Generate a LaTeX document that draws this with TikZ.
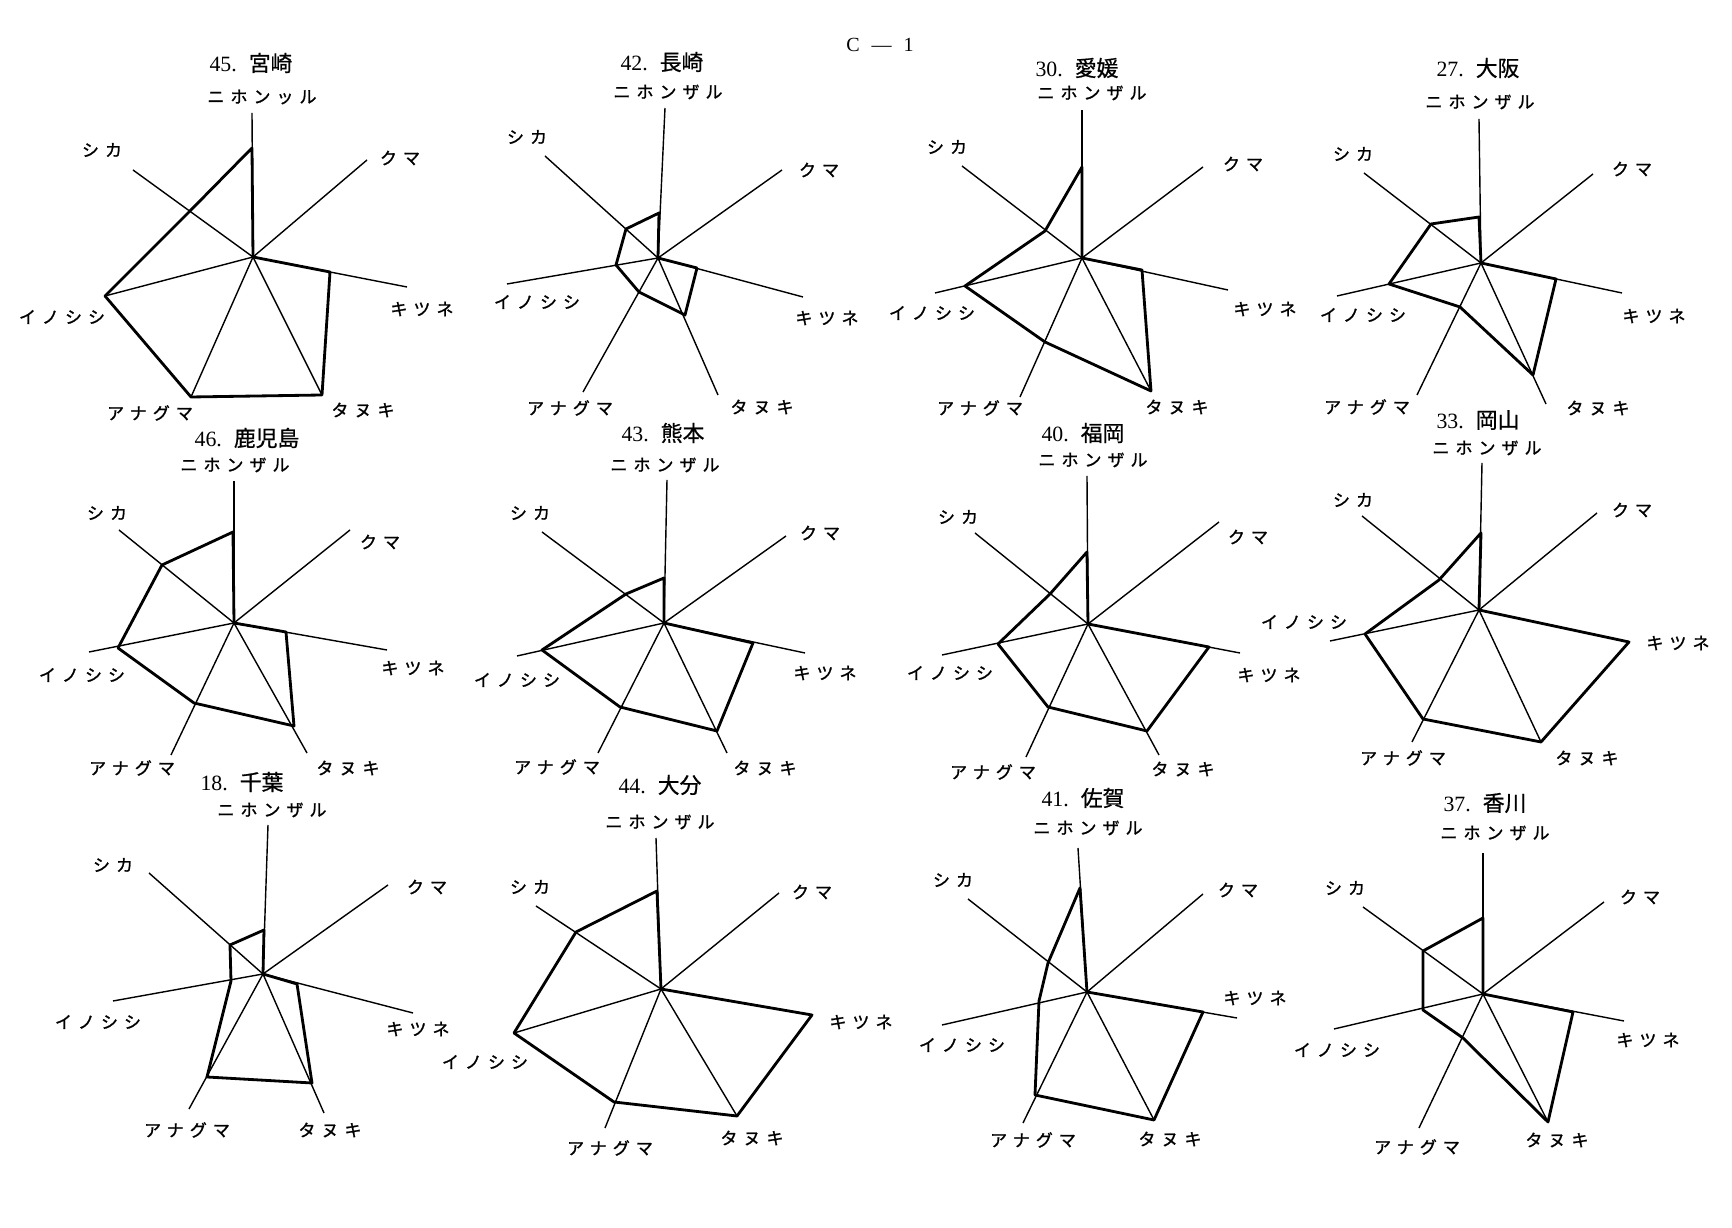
\documentclass[tikz,border=0pt]{standalone}
\usepackage{fontspec}
\setmainfont{Liberation Serif}
\newfontfamily\cjk[LetterSpace=35, FakeBold=1.2]{Noto Sans CJK JP}
\newfontfamily\cjkt[FakeBold=0.8]{Noto Sans CJK JP}
\newcommand{\drawthin}{\draw[line width=0.4pt]}
\newcommand{\drawthick}{\draw[line width=0.8pt, line join=round]}
\newcommand{\spokes}[3]{
    \foreach \sx/\sy in {#3}{
    \drawthin (#1,#2)--(\sx,\sy);
    }
}
\newcommand{\animal}[4]{\node[lbl] (#1) at (#2,#3) {#4};}
\newcommand{\prefname}[5]{\node[ttl] (#1) at (#2,#3) {#4.\hspace{0.55em}{\cjkt #5}};}
\tikzset{
    lbl/.style={font=\cjk\fontsize{4.85}{5}\selectfont, inner sep=0pt},
    ttl/.style={font=\fontsize{6.2}{7}\selectfont, inner sep=0pt}
}
\begin{document}
\begin{tikzpicture}[x=0.01cm, y=-0.01cm]
\useasboundingbox (0,0) rectangle (1732,1228);
\node[font=\fontsize{5.7}{6}\selectfont, inner sep=0pt] (page) at (880,45) {C\hspace{0.6em}—\hspace{0.6em}1};
% 45 宮崎
\prefname{t45}{251}{63}{45}{宮崎}
\spokes{253}{257}{252/113,367/160,407/287,322/395,191/397,105/296,133/170}
\drawthick (252,148)--(253,257)--(330,272)--(322,395)--(191,397)--(105,296)--(190,211)--cycle;
\animal{n45}{262}{97}{ニホンッル}\animal{k45}{400}{158}{クマ}\animal{f45}{422}{309}{キツネ}\animal{r45}{363}{410}{タヌキ}\animal{b45}{150}{413}{アナグマ}\animal{w45}{62}{317}{イノシシ}\animal{d45}{102}{150}{シカ}
% 42 長崎
\prefname{t42}{662}{62}{42}{長崎}
\spokes{658}{258}{665/108,782/170,803/297,718/395,583/392,507/284,545/156}
\drawthick (659,213)--(658,258)--(697,268)--(685,315)--(639,292)--(616,265)--(626,229)--cycle;
\animal{n42}{668}{92}{ニホンザル}\animal{k42}{819}{170}{クマ}\animal{f42}{827}{318}{キツネ}\animal{r42}{762}{407}{タヌキ}\animal{b42}{570}{408}{アナグマ}\animal{w42}{537}{302}{イノシシ}\animal{d42}{527}{137}{シカ}
% 30 愛媛
\prefname{t30}{1077}{68}{30}{愛媛}
\spokes{1082}{258}{1082/110,1203/167,1228/290,1151/391,1020/397,935/293,962/166}
\drawthick (1082,167)--(1082,258)--(1142,270)--(1151,391)--(1045,342)--(965,286)--(1045,231)--cycle;
\animal{n30}{1092}{93}{ニホンザル}\animal{k30}{1243}{164}{クマ}\animal{f30}{1265}{309}{キツネ}\animal{r30}{1177}{407}{タヌキ}\animal{b30}{980}{408}{アナグマ}\animal{w30}{932}{313}{イノシシ}\animal{d30}{947}{147}{シカ}
% 27 大阪
\prefname{t27}{1478}{68}{27}{大阪}
\spokes{1481}{263}{1479/119,1593/174,1622/293,1546/404,1417/395,1337/296,1364/173}
\drawthick (1479,217)--(1481,263)--(1556,279)--(1533,375)--(1460,307)--(1389,284)--(1431,224)--cycle;
\animal{n27}{1480}{102}{ニホンザル}\animal{k27}{1632}{169}{クマ}\animal{f27}{1654}{316}{キツネ}\animal{r27}{1598}{408}{タヌキ}\animal{b27}{1367}{407}{アナグマ}\animal{w27}{1363}{315}{イノシシ}\animal{d27}{1353}{154}{シカ}
% 46 鹿児島
\prefname{t46}{247}{438}{46}{鹿児島}
\spokes{234}{623}{234/481,350/530,387/650,307/753,171/755,89/652,119/530}
\drawthick (233,532)--(234,623)--(286,632)--(294,726)--(194,703)--(118,648)--(162,565)--cycle;
\animal{n46}{235}{465}{ニホンザル}\animal{k46}{380}{542}{クマ}\animal{f46}{413}{668}{キツネ}\animal{r46}{348}{768}{タヌキ}\animal{b46}{132}{768}{アナグマ}\animal{w46}{82}{675}{イノシシ}\animal{d46}{107}{513}{シカ}
% 43 熊本
\prefname{t43}{663}{433}{43}{熊本}
\spokes{664}{623}{667/480,786/536,805/653,727/753,598/753,517/656,542/532}
\drawthick (664,578)--(664,623)--(753,643)--(717,731)--(620,707)--(542,650)--(626,594)--cycle;
\animal{n43}{665}{465}{ニホンザル}\animal{k43}{820}{533}{クマ}\animal{f43}{825}{673}{キツネ}\animal{r43}{765}{768}{タヌキ}\animal{b43}{557}{767}{アナグマ}\animal{w43}{517}{680}{イノシシ}\animal{d43}{530}{513}{シカ}
% 40 福岡
\prefname{t40}{1083}{433}{40}{福岡}
\spokes{1088}{624}{1087/476,1219/522,1240/653,1159/755,1026/757,942/655,975/533}
\drawthick (1087,552)--(1088,624)--(1209,647)--(1147,731)--(1048,707)--(998,644)--(1050,594)--cycle;
\animal{n40}{1093}{460}{ニホンザル}\animal{k40}{1248}{537}{クマ}\animal{f40}{1269}{675}{キツネ}\animal{r40}{1183}{769}{タヌキ}\animal{b40}{993}{772}{アナグマ}\animal{w40}{950}{673}{イノシシ}\animal{d40}{958}{517}{シカ}
% 33 岡山
\prefname{t33}{1478}{420}{33}{岡山}
\spokes{1479}{610}{1482/463,1597/513,1629/642,1541/742,1412/742,1330/641,1362/516}
\drawthick (1481,533)--(1479,610)--(1629,642)--(1541,742)--(1423,719)--(1365,634)--(1439,580)--cycle;
\animal{n33}{1487}{448}{ニホンザル}\animal{k33}{1632}{510}{クマ}\animal{f33}{1678}{643}{キツネ}\animal{r33}{1587}{758}{タヌキ}\animal{b33}{1403}{758}{アナグマ}\animal{w33}{1304}{622}{イノシシ}\animal{d33}{1353}{500}{シカ}
% 18 千葉
\prefname{t18}{242}{782}{18}{千葉}
\spokes{263}{974}{268/825,388/885,413/1013,324/1113,189/1109,113/1001,149/873}
\drawthick (264,930)--(263,974)--(297,984)--(312,1083)--(207,1077)--(231,981)--(230,945)--cycle;
\animal{n18}{272}{810}{ニホンザル}\animal{k18}{427}{887}{クマ}\animal{f18}{418}{1029}{キツネ}\animal{r18}{330}{1130}{タヌキ}\animal{b18}{187}{1130}{アナグマ}\animal{w18}{98}{1022}{イノシシ}\animal{d18}{113}{865}{シカ}
% 44 大分
\prefname{t44}{660}{785}{44}{大分}
\spokes{661}{989}{656/838,779/893,812/1015,737/1116,605/1128,514/1033,536/906}
\drawthick (657,891)--(661,989)--(812,1015)--(737,1116)--(614,1102)--(514,1033)--(576,932)--cycle;
\animal{n44}{660}{822}{ニホンザル}\animal{k44}{812}{892}{クマ}\animal{f44}{861}{1022}{キツネ}\animal{r44}{752}{1138}{タヌキ}\animal{b44}{610}{1148}{アナグマ}\animal{w44}{485}{1062}{イノシシ}\animal{d44}{530}{887}{シカ}
% 41 佐賀
\prefname{t41}{1083}{798}{41}{佐賀}
\spokes{1087}{992}{1078/848,1203/894,1237/1018,1154/1120,1023/1123,942/1025,968/899}
\drawthick (1080,888)--(1087,992)--(1203,1012)--(1154,1120)--(1035,1095)--(1039,1001)--(1048,963)--cycle;
\animal{n41}{1088}{828}{ニホンザル}\animal{k41}{1238}{890}{クマ}\animal{f41}{1255}{998}{キツネ}\animal{r41}{1170}{1139}{タヌキ}\animal{b41}{1033}{1140}{アナグマ}\animal{w41}{962}{1045}{イノシシ}\animal{d41}{953}{880}{シカ}
% 37 香川
\prefname{t37}{1485}{803}{37}{香川}
\spokes{1483}{994}{1483/853,1604/902,1624/1021,1548/1122,1419/1128,1334/1029,1363/907}
\drawthick (1483,918)--(1483,994)--(1573,1012)--(1548,1122)--(1463,1038)--(1423,1010)--(1423,951)--cycle;
\animal{n37}{1495}{833}{ニホンザル}\animal{k37}{1640}{897}{クマ}\animal{f37}{1648}{1040}{キツネ}\animal{r37}{1557}{1140}{タヌキ}\animal{b37}{1417}{1147}{アナグマ}\animal{w37}{1337}{1050}{イノシシ}\animal{d37}{1345}{888}{シカ}
\end{tikzpicture}
\end{document}
